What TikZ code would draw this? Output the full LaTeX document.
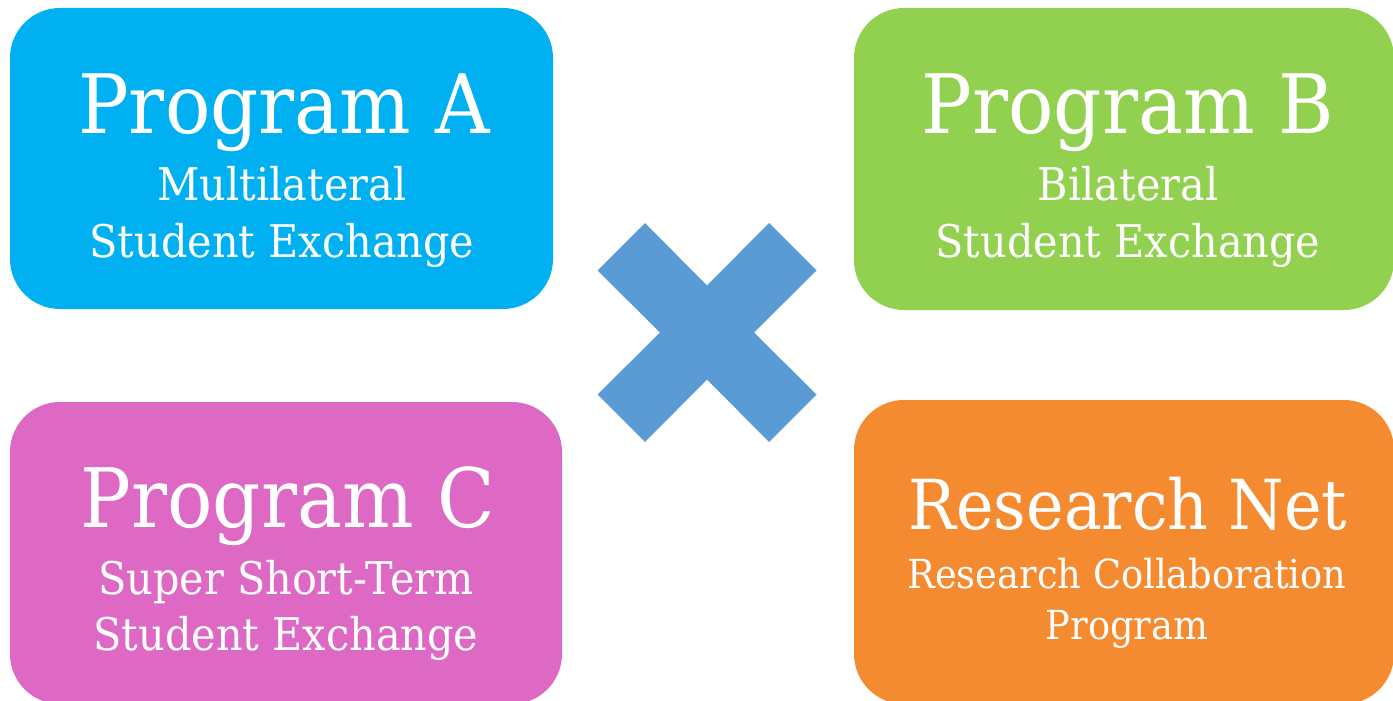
\documentclass[tikz,border=0pt]{standalone}
\usepackage{fontspec}
\setmainfont{DejaVu Serif}[FakeStretch=0.92]
\usetikzlibrary{calc}
\definecolor{cA}{HTML}{00B0F0}
\definecolor{cB}{HTML}{92D050}
\definecolor{cC}{HTML}{DD69C5}
\definecolor{cD}{HTML}{F58B31}
\definecolor{cX}{HTML}{5B9BD5}
\tikzset{
  box/.style={rectangle, rounded corners=50pt, inner sep=0pt, draw=none},
  title/.style={text=white, anchor=base, inner sep=0pt, font=\fontsize{82}{82}\selectfont},
  sub/.style={text=white, anchor=base, inner sep=0pt, font=\fontsize{45}{45}\selectfont},
  titled/.style={title, font=\fontsize{69}{69}\selectfont},
  subd/.style={sub, font=\fontsize{40}{40}\selectfont},
}
\begin{document}
\begin{tikzpicture}[x=1pt,y=-1pt]
\useasboundingbox (0,0) rectangle (1393,701);
\node[box, fill=cA, minimum width=543pt, minimum height=301pt] (A) at (281.5,158.5) {};
\node[box, fill=cB, minimum width=540pt, minimum height=302pt] (B) at (1124,159) {};
\node[box, fill=cC, minimum width=552pt, minimum height=302pt] (C) at (286,553) {};
\node[box, fill=cD, minimum width=540pt, minimum height=304pt] (D) at (1124,552) {};
% cross
\coordinate (X) at (707,332.5);
\fill[cX] ($(X)+(-62,-109.5)$) -- ++(62,62.5) -- ++(62,-62.5) -- ++(47.5,47.5) -- ++(-62.5,62) -- ++(62.5,62) -- ++(-47.5,47.5) -- ++(-62,-62.5) -- ++(-62,62.5) -- ++(-47.5,-47.5) -- ++(62.5,-62) -- ++(-62.5,-62) -- cycle;
% texts
\node[title] (At) at (284,133) {Program A};
\node[sub] (A1) at (282,200) {Multilateral};
\node[sub] (A2) at (282,257) {Student Exchange};
\node[title] (Bt) at (1128,133) {Program B};
\node[sub] (B1) at (1128,200) {Bilateral};
\node[sub] (B2) at (1128,257) {Student Exchange};
\node[title] (Ct) at (288,527) {Program C};
\node[sub] (C1) at (286,594) {Super Short-Term};
\node[sub] (C2) at (286,650) {Student Exchange};
\node[titled] (Dt) at (1128,529) {Research Net};
\node[subd] (D1) at (1127,588) {Research Collaboration};
\node[subd] (D2) at (1127,639) {Program};
\end{tikzpicture}
\end{document}
